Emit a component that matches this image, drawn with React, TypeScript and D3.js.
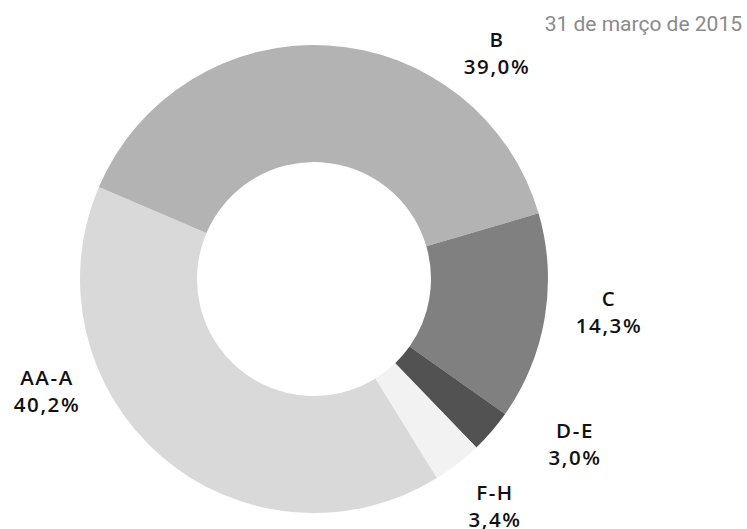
import React from "react";
import * as d3 from "d3";

const categories = ["AA-A", "B", "C", "D-E", "F-H"];
const values = [40.2, 39.0, 14.3, 3.0, 3.4];
const valueLabels = ["40,2%", "39,0%", "14,3%", "3,0%", "3,4%"];
const colors = ["#d9d9d9", "#b3b3b3", "#808080", "#525252", "#f2f2f2"];
const title = "31 de março de 2015";

// layout (not data)
const W = 747;
const H = 529;
const CX = 314;
const CY = 279;
const R_OUT = 234;
const R_IN = 117;
const START_DEG = 148.3;
const labelAnchors: [number, number][] = [
  [47, 385],
  [497, 47],
  [609, 306],
  [575, 438],
  [495, 500],
];
const LINE_GAP = 27;

export default function App() {
  const start = (START_DEG * Math.PI) / 180;
  const pie = d3
    .pie<number>()
    .sort(null)
    .value((d) => d)
    .startAngle(start)
    .endAngle(start + 2 * Math.PI);
  const arcs = pie(values);
  const arc = d3.arc<d3.PieArcDatum<number>>().innerRadius(R_IN).outerRadius(R_OUT);

  return (
    <svg
      width={W}
      height={H}
      style={{ position: "absolute", left: 0, top: 0, background: "#fff" }}
    >
      <g transform={`translate(${CX},${CY})`}>
        {arcs.map((a, i) => (
          <path key={categories[i]} d={arc(a) || ""} fill={colors[i]} />
        ))}
      </g>
      <text
        x={742}
        y={31}
        textAnchor="end"
        fontFamily="Roboto"
        fontSize={21}
        fill="#8a8a8a"
      >
        {title}
      </text>
      {categories.map((c, i) => (
        <text
          key={c}
          textAnchor="middle"
          fontFamily="'Open Sans'"
          fontSize={20.5}
          fontWeight={600}
          letterSpacing={1.6}
          fill="#111"
        >
          <tspan x={labelAnchors[i][0]} y={labelAnchors[i][1]}>
            {c}
          </tspan>
          <tspan x={labelAnchors[i][0]} y={labelAnchors[i][1] + LINE_GAP}>
            {valueLabels[i]}
          </tspan>
        </text>
      ))}
    </svg>
  );
}
